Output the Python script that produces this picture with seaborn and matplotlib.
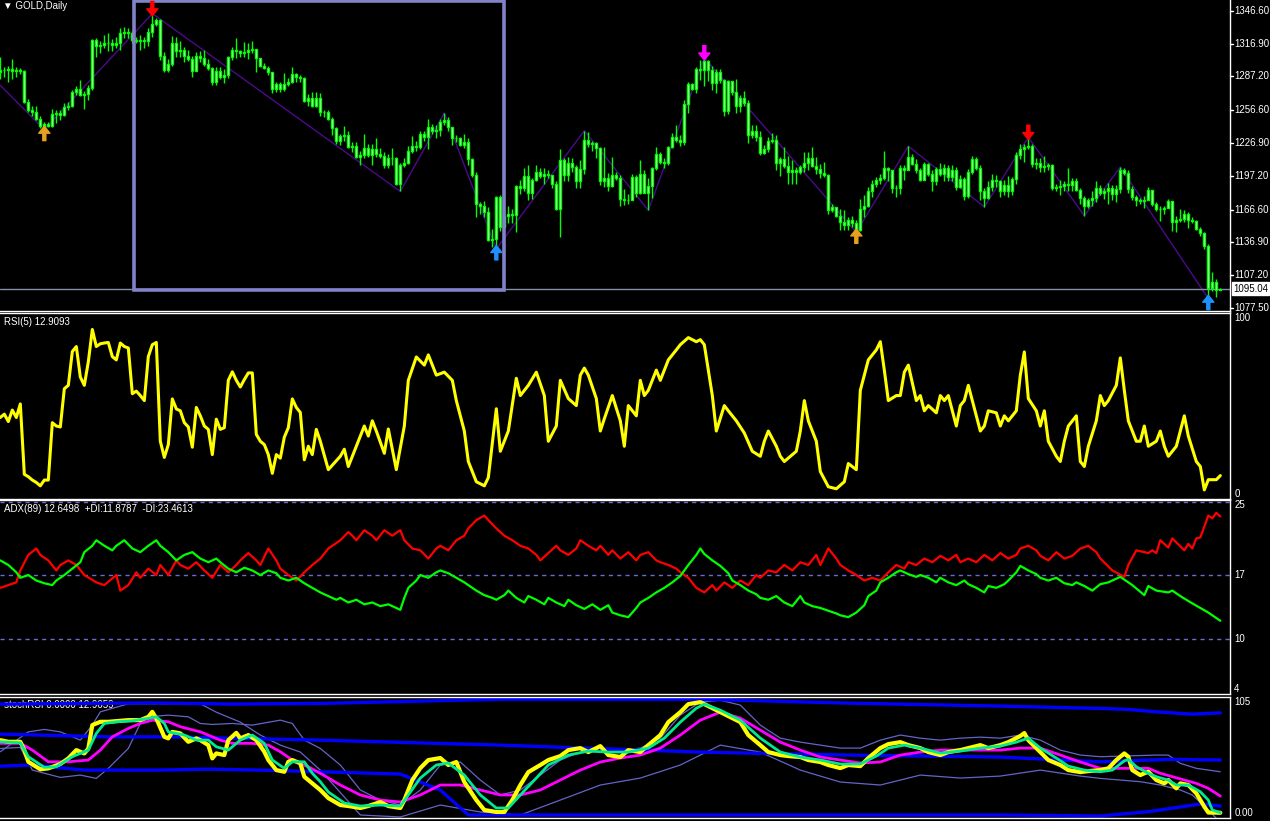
import matplotlib
matplotlib.use('Agg')
import matplotlib.pyplot as plt
from matplotlib.patches import Rectangle
import seaborn as sns

# GOLD daily bars, oldest first (306 bars)
closes = [1293, 1293, 1294, 1292, 1293, 1292, 1264, 1257, 1255, 1249, 1242, 1244, 1242, 1253, 1254, 1252, 1259, 1260, 1273, 1276,
          1270, 1271, 1277, 1320, 1315, 1316, 1317, 1317, 1316, 1317, 1326, 1327, 1326, 1320, 1319, 1320, 1319, 1327, 1335, 1338,
          1306, 1293, 1298, 1317, 1310, 1311, 1306, 1303, 1292, 1306, 1304, 1298, 1295, 1282, 1292, 1287, 1288, 1305, 1311, 1310,
          1308, 1309, 1311,
          1312, 1304, 1297, 1295, 1291, 1276, 1280, 1276, 1280, 1282, 1289, 1287, 1286, 1265, 1268, 1260, 1268, 1255, 1255, 1249,
          1240, 1229, 1233, 1234, 1223, 1224, 1214, 1216, 1222, 1216, 1221, 1217, 1215, 1207, 1213, 1213, 1190, 1207, 1209, 1220,
          1224, 1223, 1235, 1232, 1241, 1238, 1239, 1246, 1248, 1241, 1231, 1231, 1225, 1228, 1212, 1198, 1172, 1170, 1164, 1139,
          1140, 1178,
          1151, 1161, 1163, 1162, 1188, 1186, 1197, 1182, 1193, 1201, 1197, 1199, 1198, 1190, 1167, 1211, 1198, 1209, 1205, 1192,
          1203, 1230, 1226, 1227, 1222, 1192, 1195, 1188, 1198, 1195, 1176, 1175, 1175, 1196, 1182, 1199, 1182, 1188, 1204, 1217,
          1210, 1209, 1223, 1232, 1230, 1228, 1262, 1280, 1276, 1294, 1293, 1301, 1293, 1281, 1291, 1284, 1256, 1283, 1273, 1260,
          1268, 1263, 1234,
          1238, 1232, 1218, 1221, 1229, 1230, 1209, 1212, 1206, 1201, 1202, 1201, 1205, 1209, 1213, 1206, 1203, 1200, 1198, 1166,
          1169, 1161, 1155, 1153, 1157, 1154, 1148, 1167, 1170, 1183, 1190, 1193, 1195, 1204, 1202, 1186, 1186, 1204, 1202, 1214,
          1208, 1202, 1193, 1208, 1199, 1192, 1203, 1199, 1204, 1196, 1202, 1187, 1194, 1179, 1201, 1212, 1204, 1183, 1177, 1187,
          1193, 1192,
          1183, 1189, 1183, 1194, 1216, 1221, 1223, 1224, 1208, 1209, 1205, 1206, 1207, 1186, 1187, 1188, 1190, 1189, 1192, 1184,
          1177, 1170, 1175, 1177, 1186, 1182, 1183, 1186, 1181, 1185, 1202, 1200, 1185, 1178, 1175, 1174, 1175, 1184, 1172, 1167,
          1167, 1168, 1174, 1155, 1157, 1158, 1163, 1157, 1156, 1149, 1145, 1134, 1096, 1101, 1094, 1095.04]
highs = [1305, 1296, 1297, 1303, 1296, 1295, 1293, 1267, 1260, 1260, 1251, 1246, 1246, 1258, 1257, 1257, 1263, 1264, 1275, 1278,
         1284, 1274, 1279, 1321, 1322, 1319, 1325, 1326, 1321, 1323, 1331, 1332, 1331, 1328, 1323, 1325, 1323, 1331, 1344, 1340,
         1339, 1309, 1303, 1324, 1323, 1319, 1314, 1311, 1306, 1309, 1310, 1311, 1303, 1296, 1296, 1296, 1294, 1306, 1314, 1322,
         1311, 1318, 1317,
         1319, 1312, 1303, 1299, 1297, 1291, 1282, 1282, 1290, 1286, 1296, 1290, 1288, 1287, 1271, 1273, 1273, 1272, 1257, 1257,
         1250, 1241, 1235, 1242, 1238, 1228, 1228, 1220, 1235, 1226, 1226, 1231, 1222, 1219, 1217, 1222, 1214, 1209, 1213, 1224,
         1233, 1229, 1238, 1238, 1249, 1244, 1243, 1249, 1254, 1250, 1241, 1234, 1232, 1235, 1231, 1213, 1201, 1173, 1174, 1169,
         1149, 1179,
         1180, 1166, 1170, 1167, 1189, 1193, 1204, 1207, 1195, 1207, 1204, 1204, 1202, 1198, 1192, 1221, 1213, 1214, 1213, 1207,
         1211, 1238, 1237, 1229, 1228, 1223, 1223, 1200, 1214, 1201, 1198, 1185, 1181, 1199, 1198, 1211, 1202, 1195, 1205, 1223,
         1219, 1213, 1224, 1236, 1243, 1234, 1266, 1282, 1281, 1296, 1302, 1304, 1302, 1297, 1294, 1294, 1285, 1284, 1283, 1285,
         1270, 1274, 1266,
         1243, 1243, 1238, 1225, 1232, 1236, 1234, 1214, 1223, 1215, 1211, 1205, 1207, 1219, 1219, 1223, 1214, 1208, 1210, 1199,
         1172, 1167, 1167, 1166, 1160, 1161, 1157, 1176, 1180, 1187, 1193, 1196, 1199, 1220, 1205, 1200, 1189, 1207, 1207, 1224,
         1217, 1212, 1204, 1210, 1209, 1202, 1205, 1209, 1208, 1207, 1207, 1205, 1198, 1196, 1203, 1215, 1214, 1207, 1186, 1192,
         1199, 1198,
         1193, 1193, 1197, 1196, 1219, 1226, 1226, 1232, 1226, 1213, 1213, 1215, 1209, 1208, 1190, 1193, 1192, 1204, 1195, 1195,
         1186, 1179, 1177, 1183, 1192, 1189, 1186, 1191, 1189, 1189, 1205, 1204, 1202, 1188, 1180, 1177, 1179, 1187, 1181, 1173,
         1170, 1170, 1176, 1170, 1161, 1167, 1166, 1164, 1160, 1157, 1151, 1146, 1135, 1110, 1104, 1096]
lows = [1285, 1287, 1282, 1285, 1287, 1289, 1263, 1255, 1251, 1248, 1240, 1239, 1241, 1241, 1245, 1248, 1251, 1257, 1259, 1270,
        1269, 1258, 1266, 1275, 1305, 1308, 1313, 1310, 1310, 1313, 1311, 1322, 1322, 1317, 1317, 1311, 1313, 1315, 1323, 1333,
        1302, 1291, 1291, 1297, 1305, 1305, 1300, 1301, 1287, 1296, 1300, 1297, 1293, 1279, 1279, 1285, 1281, 1286, 1302, 1304,
        1305, 1305, 1303,
        1308, 1291, 1296, 1294, 1288, 1272, 1273, 1273, 1274, 1278, 1281, 1282, 1282, 1264, 1260, 1259, 1259, 1251, 1250, 1248,
        1234, 1226, 1225, 1229, 1222, 1219, 1213, 1207, 1213, 1214, 1207, 1214, 1213, 1204, 1204, 1207, 1189, 1183, 1205, 1208,
        1218, 1220, 1221, 1229, 1221, 1235, 1231, 1233, 1243, 1238, 1225, 1228, 1224, 1222, 1207, 1196, 1160, 1163, 1160, 1138,
        1133, 1131,
        1147, 1155, 1154, 1154, 1146, 1181, 1183, 1175, 1176, 1192, 1195, 1190, 1195, 1186, 1166, 1142, 1192, 1192, 1201, 1186,
        1186, 1199, 1223, 1220, 1213, 1189, 1187, 1183, 1187, 1193, 1170, 1171, 1172, 1182, 1178, 1181, 1183, 1166, 1177, 1202,
        1208, 1204, 1207, 1222, 1228, 1224, 1225, 1254, 1275, 1272, 1284, 1278, 1283, 1275, 1272, 1281, 1251, 1253, 1270, 1254,
        1255, 1260, 1227,
        1231, 1229, 1216, 1217, 1219, 1227, 1202, 1197, 1204, 1190, 1190, 1190, 1199, 1201, 1202, 1205, 1199, 1195, 1196, 1163,
        1164, 1160, 1148, 1148, 1148, 1151, 1146, 1147, 1160, 1169, 1178, 1187, 1190, 1193, 1192, 1182, 1178, 1181, 1193, 1212,
        1207, 1200, 1192, 1193, 1197, 1183, 1189, 1197, 1192, 1192, 1192, 1184, 1186, 1175, 1177, 1199, 1202, 1175, 1169, 1176,
        1183, 1187,
        1178, 1180, 1178, 1180, 1190, 1212, 1210, 1221, 1205, 1203, 1201, 1201, 1202, 1184, 1183, 1180, 1183, 1183, 1183, 1183,
        1172, 1161, 1168, 1170, 1173, 1180, 1176, 1172, 1175, 1173, 1182, 1198, 1182, 1175, 1170, 1172, 1168, 1176, 1170, 1165,
        1156, 1163, 1168, 1147, 1146, 1155, 1155, 1150, 1154, 1148, 1143, 1131, 1086, 1093, 1087, 1094]
first_open = 1291
last_price = 1095.04
price_ticks = [1346.60, 1316.90, 1287.20, 1256.60, 1226.90, 1197.20, 1166.60, 1136.90, 1107.20, 1077.50]

# zigzag swing points: bar index and 'H' (high) / 'L' (low); line enters from the left at zz_entry
zz_entry = 1279
zz_bars = [11, 38, 100, 111, 124, 146, 162, 176, 214, 227, 246, 257, 271, 280, 302]
zz_kinds = ['L', 'H', 'L', 'H', 'L', 'H', 'L', 'H', 'L', 'H', 'L', 'H', 'L', 'H', 'L']

# signal arrows
arrow_bars = [11, 38, 124, 176, 214, 257, 302]
arrow_kinds = ['up', 'down', 'up', 'down', 'up', 'down', 'up']
arrow_colors = ['#e8a020', '#ff0000', '#1e90ff', '#ff00ff', '#e8a020', '#ff0000', '#1e90ff']

# RSI(5)
rsi_bars = list(range(80)) + [
    80, 82, 85, 86, 87, 89, 91, 92, 93, 94, 96, 97, 99, 101, 102, 104, 106, 107, 109, 111, 113, 114, 116, 117, 119, 121, 122,
    124, 125, 127, 129, 130, 132, 134, 136, 137, 139, 140, 142, 144, 145, 146, 147, 149, 150, 151, 153, 155, 156, 157, 159,
    160, 161, 162, 164, 165, 167, 169, 170, 172, 174, 175, 176, 178, 179, 181, 182, 184, 186, 188, 190, 191, 192, 194, 195,
    196, 199, 200, 201, 202, 204, 205, 207, 209, 211, 212, 214, 215, 217, 219, 220, 221, 222, 224, 225, 226, 227, 229, 230,
    231, 232, 234, 235, 236, 237, 239, 240, 241, 242, 244, 245, 246, 247, 249, 250, 251, 252, 254, 255, 256, 257, 259, 260,
    261, 262, 264, 265, 266, 267, 269, 270, 271, 272, 274, 275, 276, 277, 279, 280, 281, 282, 284, 285, 286, 287, 289, 290,
    291, 292, 294, 295, 296, 297, 299, 300, 301, 302, 304, 305]
rsi_values = [
    43.9, 45.7, 41.7, 47.9, 43.9, 51.2, 13.3, 12.0, 10.2, 8.9, 7.1, 10.2, 10.2, 41.1, 39.3, 38.8, 59.4, 61.2, 79.4, 82.1,
    65.7, 61.2, 73.9, 91.3, 82.1, 83.6, 84.0, 84.3, 76.7, 74.9, 84.0, 82.1, 81.3, 56.7, 58.1, 55.7, 53.0, 76.7, 83.1, 84.3,
    31.1, 22.4, 29.3, 53.9, 48.5, 47.5, 41.1, 38.8, 27.9, 49.3, 44.8, 39.3, 37.5, 23.9, 43.0, 37.5, 38.4, 63.9, 68.5, 63.9,
    60.3, 64.3, 67.9, 67.9, 34.8, 31.1, 29.3, 23.9, 13.8, 23.9, 22.0, 33.3, 38.4, 53.9, 49.3, 46.6, 21.1, 28.4, 23.9, 37.5,
    31.1, 15.8, 23.0, 26.8, 17.5, 28.4, 39.3, 33.9, 42.1, 36.6, 24.6, 37.7, 15.8, 39.3, 63.9, 76.5, 72.1, 77.6, 66.7, 68.3,
    63.9, 53.0, 36.6, 20.2, 9.3, 7.1, 11.5, 48.6, 25.7, 36.6, 65.0, 55.7, 61.2, 68.3, 55.7, 31.1, 39.3, 63.9, 54.1, 50.3,
    66.7, 70.5, 66.7, 54.1, 36.6, 43.2, 55.7, 42.1, 28.4, 50.3, 44.8, 63.9, 55.7, 58.5, 69.4, 63.9, 74.9, 80.3, 83.1, 86.9,
    84.7, 85.8, 83.1, 55.7, 36.6, 50.3, 47.5, 42.1, 35.5, 25.7, 23.0, 31.1, 36.6, 28.4, 23.0, 20.2, 25.7, 36.6, 53.0, 42.1,
    31.1, 14.8, 6.6, 5.5, 9.3, 19.1, 15.8, 58.5, 74.9, 80.3, 84.7, 69.4, 53.0, 55.7, 55.7, 68.3, 72.1, 53.0, 55.7, 47.5,
    50.3, 46.4, 55.7, 53.0, 55.7, 39.3, 50.3, 53.0, 61.2, 44.8, 36.6, 39.3, 47.5, 46.4, 39.3, 44.8, 42.1, 47.5, 66.7, 79.2,
    54.1, 47.5, 39.3, 47.5, 31.1, 23.0, 20.2, 31.1, 39.3, 44.8, 20.2, 17.5, 28.4, 42.1, 55.7, 50.3, 53.0, 61.2, 76.0, 58.5,
    42.1, 31.1, 31.1, 39.3, 28.4, 31.1, 36.6, 28.4, 23.0, 28.4, 36.6, 44.8, 33.9, 20.2, 17.5, 4.9, 10.4, 10.4, 12.6]

# ADX(89): -DI (red) and +DI (green)
mdi_bars = [0, 2, 4, 5, 7, 9, 10, 12, 14, 15, 17, 19, 21, 24, 26, 29, 30, 32, 34, 35, 37, 39, 40, 42, 44, 45, 47, 49,
            51, 53, 55, 57, 59, 60, 62, 64, 65, 67, 69, 70, 72, 74, 76, 78, 80, 82, 85, 87, 88, 89, 91, 93, 94, 96, 98,
            100, 101, 103, 105, 107, 109, 110, 112, 114, 116, 117, 119, 121, 122, 124, 126, 128, 130, 132, 134, 135,
            137, 139, 140, 142, 144, 145, 147, 149, 150, 152, 153, 155, 157, 159, 160, 162, 164, 165, 167, 169, 170,
            172, 174, 176, 178, 179, 181, 183, 185, 187, 189, 190, 192, 194, 196, 198, 200, 202, 204, 205, 207, 209,
            210, 212, 214, 216, 218, 220, 222, 224, 226, 227, 229, 231, 233, 235, 237, 239, 240, 242, 244, 246, 248,
            250, 252, 254, 255, 257, 259, 260, 262, 264, 266, 268, 270, 272, 274, 275, 278, 281, 282, 284, 287, 288,
            289, 290, 292, 293, 296, 297, 298, 299, 300, 302, 303, 304, 305]
minus_di = [15.6, 15.9, 16.2, 17.5, 19.2, 19.9, 19.2, 18.6, 17.5, 18.1, 18.6, 18.1, 17.0, 16.2, 15.9, 17.0, 15.3, 15.9,
            17.3, 16.7, 17.7, 17.0, 18.1, 17.0, 18.6, 18.1, 17.7, 18.4, 17.5, 16.7, 18.1, 17.3, 18.1, 18.6, 19.4, 18.6,
            18.1, 19.9, 18.6, 17.7, 17.0, 16.4, 17.3, 18.1, 18.8, 19.9, 20.8, 21.7, 21.3, 20.8, 21.9, 21.3, 20.8, 21.9,
            21.3, 21.9, 20.8, 19.9, 19.7, 18.8, 19.9, 20.2, 19.7, 20.8, 21.3, 22.1, 23.0, 23.5, 23.0, 22.1, 21.3, 20.8,
            20.2, 19.9, 19.2, 18.6, 19.4, 20.2, 19.7, 19.2, 19.9, 20.8, 20.2, 19.7, 20.2, 19.2, 19.7, 18.8, 19.5, 18.6,
            19.2, 19.5, 18.6, 18.4, 18.1, 17.7, 17.3, 16.7, 15.6, 15.1, 15.9, 15.3, 16.2, 15.6, 16.4, 15.9, 17.0, 16.7,
            17.5, 17.3, 18.1, 17.5, 18.4, 18.1, 19.2, 18.1, 19.9, 18.8, 18.1, 17.5, 17.0, 16.4, 16.7, 16.4, 17.3, 18.1,
            17.7, 18.4, 18.1, 18.8, 18.4, 19.1, 18.6, 19.2, 18.4, 18.8, 18.4, 19.2, 18.6, 19.4, 18.8, 19.2, 19.9, 20.2,
            19.7, 19.1, 18.6, 19.5, 18.8, 19.1, 19.9, 20.2, 19.5, 18.8, 17.5, 16.8, 18.1, 19.7, 19.4, 19.7, 19.4, 20.8,
            20.0, 21.0, 19.7, 20.4, 19.9, 21.0, 21.1, 23.5, 23.2, 23.8, 23.4]
pdi_bars = [0, 2, 4, 5, 7, 9, 11, 13, 14, 16, 18, 20, 21, 23, 24, 26, 28, 29, 31, 33, 35, 37, 39, 40, 42, 44, 46, 48,
            50, 52, 54, 55, 57, 59, 61, 63, 65, 67, 69, 70, 72, 74, 76, 78, 80, 82, 84, 85, 87, 89, 91, 93, 95, 97, 99,
            100, 101, 102, 104, 105, 107, 109, 110, 112, 114, 116, 117, 119, 121, 123, 124, 126, 127, 129, 131, 132,
            134, 136, 137, 139, 141, 142, 144, 146, 148, 150, 152, 153, 155, 157, 159, 160, 162, 164, 166, 168, 170,
            172, 174, 175, 176, 178, 180, 182, 183, 185, 187, 189, 190, 192, 194, 196, 198, 200, 201, 203, 205, 207,
            209, 210, 212, 214, 216, 217, 219, 220, 222, 224, 225, 227, 229, 230, 232, 234, 235, 237, 239, 241, 242,
            244, 246, 247, 249, 251, 252, 254, 255, 257, 259, 260, 262, 264, 266, 268, 269, 271, 273, 275, 277, 280,
            283, 286, 287, 289, 292, 293, 295, 298, 302, 305]
plus_di = [18.6, 18.1, 17.3, 16.7, 17.0, 16.4, 16.1, 15.9, 16.4, 17.0, 17.7, 18.4, 19.5, 20.2, 20.8, 20.2, 19.7, 20.2,
           20.8, 19.9, 19.5, 20.2, 20.8, 20.2, 19.5, 18.6, 19.2, 19.5, 18.8, 18.4, 18.8, 18.4, 17.7, 17.3, 17.8, 17.5,
           17.0, 17.5, 17.2, 16.7, 16.4, 16.7, 16.1, 15.6, 15.1, 14.7, 14.3, 14.5, 14.0, 14.3, 13.8, 14.0, 13.6, 13.8,
           13.4, 13.2, 14.5, 15.6, 16.4, 17.0, 16.7, 17.3, 17.5, 17.2, 16.7, 16.2, 15.9, 15.3, 14.8, 14.5, 14.3, 14.8,
           15.3, 14.5, 14.0, 14.7, 14.3, 13.8, 14.5, 14.0, 13.6, 14.3, 13.7, 13.3, 13.8, 13.2, 13.7, 12.9, 12.6, 12.4,
           13.4, 14.0, 14.5, 15.1, 15.6, 16.2, 16.9, 18.1, 19.2, 19.9, 19.3, 18.6, 18.0, 17.2, 16.4, 15.9, 15.3, 14.9,
           14.5, 14.3, 14.7, 14.0, 13.6, 14.7, 14.0, 13.6, 13.4, 13.1, 12.8, 12.6, 12.4, 12.9, 13.7, 14.7, 15.3, 16.2,
           16.7, 17.3, 17.5, 17.1, 16.8, 17.0, 16.7, 16.2, 16.7, 16.2, 15.9, 16.4, 16.0, 15.6, 15.1, 15.8, 15.6, 16.0,
           16.4, 17.3, 18.0, 17.5, 17.1, 16.7, 16.4, 16.7, 16.1, 15.9, 16.2, 15.8, 15.3, 16.0, 16.2, 16.8, 15.9, 14.8,
           15.8, 15.3, 15.1, 15.3, 14.7, 13.9, 12.9, 12.0]
adx_levels = [25, 17, 10]

# stochRSI lines
k_bars = [0, 2, 5, 6, 7, 10, 12, 15, 17, 19, 21, 22, 23, 25, 27, 30, 32, 35, 37, 38, 39, 41, 42, 43, 45, 47, 49, 50,
          52, 53, 54, 56, 57, 59, 60, 62, 64, 66, 67, 69, 71, 72, 73, 75, 76, 78, 80, 82, 85, 87, 90, 92, 95, 97, 100,
          101, 103, 105, 107, 110, 112, 114, 116, 119, 121, 124, 126, 128, 130, 132, 135, 137, 140, 142, 145, 147,
          150, 152, 155, 157, 160, 162, 165, 167, 170, 172, 175, 177, 180, 182, 185, 187, 190, 192, 195, 197, 200,
          202, 205, 207, 210, 212, 215, 217, 220, 222, 225, 227, 230, 232, 235, 237, 240, 242, 245, 247, 250, 252,
          255, 256, 257, 260, 262, 265, 267, 270, 272, 275, 277, 279, 281, 282, 283, 285, 286, 287, 289, 291, 292,
          294, 295, 297, 299, 301, 302, 303, 305]
stoch_k = [65.7, 64.2, 64.2, 56.7, 46.1, 39.3, 40.2, 44.1, 49.2, 56.7, 53.7, 58.2, 79.3, 82.3, 82.3, 83.2, 83.8, 83.8,
           86.8, 91.3, 85.3, 68.7, 67.3, 73.2, 71.8, 64.2, 67.3, 65.7, 61.2, 49.2, 53.7, 52.2, 65.7, 72.3, 67.3, 70.3,
           65.7, 55.2, 47.7, 38.6, 37.1, 46.1, 47.7, 44.7, 32.6, 26.6, 20.6, 13.3, 7.0, 6.1, 4.3, 6.1, 9.7, 6.1, 4.3,
           11.5, 29.6, 40.4, 47.7, 49.5, 43.2, 45.9, 27.8, 11.5, 2.5, 0.7, 0.7, 11.5, 25.1, 36.8, 43.2, 47.7, 51.3,
           56.7, 58.5, 54.9, 60.3, 52.2, 50.4, 56.7, 54.9, 61.2, 70.3, 82.0, 91.0, 98.3, 100.1, 96.5, 91.0, 87.4, 82.0,
           70.3, 61.2, 54.9, 52.2, 51.3, 50.4, 47.7, 45.9, 43.2, 40.4, 43.2, 42.2, 49.5, 58.5, 62.1, 63.9, 61.2, 58.5,
           54.9, 52.2, 54.9, 56.7, 58.5, 61.2, 58.5, 61.2, 63.9, 69.4, 72.1, 65.7, 54.9, 47.7, 43.2, 38.6, 36.8, 37.7,
           38.6, 40.2, 47.7, 53.7, 50.7, 38.6, 34.1, 35.7, 37.1, 29.6, 26.6, 29.6, 22.1, 26.6, 25.1, 17.6, 5.5, 0.2,
           0.1, 0.0]
d_bars = [0, 5, 7, 11, 14, 18, 22, 24, 26, 29, 33, 37, 39, 41, 42, 46, 49, 52, 54, 57, 60, 63, 66, 68, 71, 73, 76, 78,
          80, 82, 86, 90, 95, 100, 102, 105, 109, 112, 116, 120, 124, 127, 130, 134, 137, 142, 147, 152, 157, 162, 166,
          170, 174, 176, 180, 185, 190, 195, 200, 205, 210, 215, 219, 222, 226, 230, 235, 240, 245, 250, 254, 257, 260,
          264, 267, 271, 275, 278, 281, 282, 284, 287, 289, 292, 294, 297, 300, 302, 303, 305]
stoch_d = [64.2, 63.3, 50.7, 41.1, 41.6, 50.7, 56.7, 71.8, 80.8, 82.3, 83.2, 85.3, 86.8, 80.8, 73.2, 70.3, 65.7, 65.7,
           59.7, 56.7, 65.7, 70.3, 62.8, 47.7, 40.2, 46.1, 46.1, 35.7, 28.1, 18.8, 8.8, 6.1, 7.0, 6.1, 16.1, 31.4, 43.2,
           45.0, 34.1, 16.1, 4.3, 4.3, 16.1, 31.4, 43.2, 52.2, 55.8, 54.9, 54.9, 58.5, 67.5, 82.0, 94.6, 98.3, 92.8,
           83.8, 67.5, 54.9, 50.4, 47.7, 44.1, 44.1, 51.3, 58.5, 61.2, 58.5, 54.0, 55.8, 58.5, 60.3, 63.9, 67.5, 58.5,
           49.5, 42.2, 38.6, 37.1, 38.6, 47.0, 48.3, 41.6, 35.7, 32.6, 29.6, 25.1, 25.1, 19.0, 11.5, 2.5, 0.1]
slow_bars = [0, 5, 8, 12, 17, 22, 25, 28, 32, 35, 38, 42, 45, 50, 55, 58, 63, 67, 70, 73, 77, 80, 85, 90, 95, 100, 105,
             110, 115, 120, 125, 130, 135, 140, 145, 150, 155, 160, 165, 170, 175, 180, 185, 190, 195, 200, 205, 210,
             215, 220, 225, 230, 235, 240, 245, 250, 255, 260, 265, 270, 275, 287, 290, 296, 299, 302, 305]
stoch_slow = [62.8, 62.8, 56.7, 46.1, 46.1, 47.7, 56.7, 68.7, 76.3, 80.8, 83.8, 82.3, 77.8, 73.2, 65.7, 62.8, 62.8, 61.2,
              55.2, 47.7, 41.6, 35.7, 25.1, 16.1, 11.5, 9.7, 16.1, 25.1, 25.1, 20.6, 16.1, 16.1, 20.6, 29.6, 38.6, 45.9,
              49.5, 52.2, 58.5, 70.3, 83.8, 91.0, 85.6, 74.7, 63.9, 56.7, 50.4, 47.7, 45.0, 45.9, 52.2, 54.9, 56.7, 56.7,
              56.7, 56.7, 58.5, 58.5, 52.2, 45.9, 40.2, 40.2, 35.7, 29.6, 26.6, 22.1, 15.1]
band_up_bars = [0, 38, 58, 80, 125, 175, 212, 250, 275, 282, 289, 298, 305]
band_up = [98.3, 99.4, 98.3, 98.9, 102.7, 102.7, 99.2, 96.5, 94.4, 93.5, 91.3, 89.2, 90.4]
band_mid_bars = [0, 27, 42, 80, 125, 175, 212, 250, 275, 292, 305]
band_mid = [71.2, 68.7, 68.7, 65.7, 61.2, 54.9, 52.2, 50.4, 46.1, 48.3, 47.7]
band_lo_bars = [0, 8, 21, 40, 52, 65, 80, 100, 110, 117, 175, 250, 275, 287, 300, 305]
band_lo = [42.2, 43.2, 38.6, 38.6, 39.5, 38.6, 37.1, 35.0, 20.6, -2.0, -2.0, -2.0, -2.9, 1.0, 7.9, 6.1]
thin_a_bars = [0, 5, 8, 15, 20, 24, 27, 32, 35, 37, 42, 47, 50, 53, 58, 63, 70, 73, 76, 80, 85, 90, 95, 100, 105, 110,
               115, 120, 125, 130, 135, 140, 145, 150, 155, 160, 165, 170, 175, 180, 185, 190, 195, 200, 205, 210, 215,
               220, 225, 230, 235, 240, 245, 250, 255, 260, 265, 270, 275, 289, 292, 295, 299, 305]
thin_a = [58.2, 59.1, 38.6, 32.0, 34.1, 31.1, 40.2, 58.2, 80.8, 86.8, 88.3, 86.8, 80.8, 79.9, 80.8, 79.3, 83.8, 80.8,
          65.7, 58.2, 43.2, 20.6, 11.5, 7.0, 20.6, 43.2, 45.9, 29.6, 16.1, 20.6, 34.1, 47.7, 54.9, 58.5, 56.7, 58.5,
          67.5, 88.3, 100.1, 101.8, 97.4, 79.3, 67.5, 63.9, 61.2, 58.5, 58.5, 65.7, 70.3, 67.5, 65.7, 67.5, 68.4, 67.5,
          70.3, 65.7, 56.7, 52.2, 50.7, 52.2, 52.2, 44.7, 40.2, 37.1]
thin_b_bars = [0, 7, 11, 15, 20, 23, 25, 32, 50, 54, 60, 65, 70, 75, 80, 90, 100, 110, 120, 130, 140, 150, 160, 170,
               180, 190, 200, 210, 220, 230, 240, 250, 260, 270, 275, 285, 290, 295, 298, 302, 304]
thin_b = [55.2, 73.2, 75.4, 73.2, 65.7, 79.3, 91.3, 98.6, 98.6, 91.0, 82.0, 70.3, 61.2, 54.9, 38.6, -2.0, -3.8, 7.0,
          0.7, -2.0, 11.5, 25.1, 31.4, 43.2, 61.2, 54.9, 38.6, 27.8, 25.1, 34.1, 31.4, 33.2, 38.6, 33.2, 31.1, 28.1,
          25.1, 20.6, 16.1, 2.5, -5.0]

# ---------------------------------------------------------------
sns.set_style('dark', {'axes.facecolor': 'black', 'figure.facecolor': 'black'})
plt.rcParams['font.family'] = ['Liberation Sans', 'DejaVu Sans']

W, H = 1270, 821
PLOT_W = 1230
XMIN, XMAX = -0.08, 307.42
FS = 7

fig = plt.figure(figsize=(W / 100, H / 100), dpi=100)
fig.patch.set_facecolor('black')


def panel(top, bottom):
    ax = fig.add_axes([0, 1 - bottom / H, PLOT_W / W, (bottom - top) / H])
    ax.set_facecolor('black')
    for s in ('top', 'bottom', 'right'):
        ax.spines[s].set_color('white')
        ax.spines[s].set_linewidth(1)
    ax.spines['left'].set_visible(False)
    ax.set_xlim(XMIN, XMAX)
    ax.grid(False)
    ax.set_xticks([])
    ax.set_yticks([])
    return ax


def right_label(ax, value, text, va='center', tick=True):
    ax.text(1.0035, value, text, transform=ax.get_yaxis_transform(), color='white',
            fontsize=FS, va=va, ha='left', clip_on=False)
    if tick:
        ax.plot([1.0, 1.0025], [value, value], transform=ax.get_yaxis_transform(),
                color='white', lw=1, clip_on=False)


def corner_label(ax, top, bottom, y_px, text):
    ax.text(4 / PLOT_W, (bottom - y_px) / (bottom - top), text, transform=ax.transAxes,
            color='white', fontsize=7, va='center', ha='left', zorder=1)


def line(ax, x, y, color, lw, z):
    sns.lineplot(x=x, y=y, ax=ax, color=color, linewidth=lw, estimator=None, sort=False, zorder=z)
    ax.set_xlabel('')
    ax.set_ylabel('')


# ---- main price panel ----
M_TOP, M_BOT = 0, 311.5
ax1 = panel(M_TOP, M_BOT)
ax1.spines['top'].set_visible(False)
ax1.set_ylim(1074.3, 1356.3)

bars = list(range(len(closes)))
opens = [first_open] + closes[:-1]
body_lo = [min(o, c) for o, c in zip(opens, closes)]
body_h = [max(abs(c - o), 0.35) for o, c in zip(opens, closes)]
hi = [max(h, o, c) for h, o, c in zip(highs, opens, closes)]
lo = [min(l, o, c) for l, o, c in zip(lows, opens, closes)]

zz_x = [0] + zz_bars
zz_y = [zz_entry] + [highs[b] if k == 'H' else lows[b] for b, k in zip(zz_bars, zz_kinds)]
ax1.plot(zz_x, zz_y, color='#4b0a8c', lw=1, zorder=1)

ax1.vlines(bars, lo, hi, color='#00ff00', lw=1, zorder=2)
ax1.bar(bars, body_h, bottom=body_lo, width=0.5, color='white', edgecolor='#00ff00',
        linewidth=1, zorder=3)

ax1.axhline(last_price, color='#8090a8', lw=1, zorder=1)
ax1.add_patch(Rectangle((33.3, 1094.1), 125.9 - 33.3, 1355.6 - 1094.1, fill=False,
                        edgecolor='#8282c8', lw=2.6, zorder=4))

for b, k, c in zip(arrow_bars, arrow_kinds, arrow_colors):
    if k == 'down':
        tip, tail = highs[b] - 2, highs[b] + 11
    else:
        tip, tail = lows[b] + 3, lows[b] - 10
    ax1.annotate('', xy=(b, tip), xytext=(b, tail),
                 arrowprops=dict(facecolor=c, edgecolor=c, width=2.2, headwidth=8,
                                 headlength=5, shrink=0), zorder=5)

for v in price_ticks:
    right_label(ax1, v, f'{v:.2f}')
ax1.text(1.0025, last_price, f'{last_price:.2f}', transform=ax1.get_yaxis_transform(),
         color='black', fontsize=FS, va='center', ha='left', clip_on=False,
         bbox=dict(boxstyle='square,pad=0.12', fc='white', ec='white'))
fig.text(3 / W, 1 - 6 / H, '\u25bc GOLD,Daily', color='white', fontsize=7, va='center', ha='left')

# ---- RSI panel ----
R_TOP, R_BOT = 313.3, 499
ax2 = panel(R_TOP, R_BOT)
ax2.set_ylim(0, 100)
line(ax2, rsi_bars, rsi_values, '#ffff00', 2.2, 3)
corner_label(ax2, R_TOP, R_BOT, 322, 'RSI(5) 12.9093')
right_label(ax2, 100, '100', va='top', tick=False)
right_label(ax2, 0, '0', va='bottom', tick=False)

# ---- ADX panel ----
A_TOP, A_BOT = 500, 694
ax3 = panel(A_TOP, A_BOT)
ax3.set_ylim(4.0, 25.2)
for lv in adx_levels:
    ax3.axhline(lv, color='#6a6ad0', lw=1, ls=(0, (3, 3)), zorder=1)
line(ax3, mdi_bars, minus_di, '#ff0000', 1.6, 3)
line(ax3, pdi_bars, plus_di, '#00ff00', 1.6, 3)
corner_label(ax3, A_TOP, A_BOT, 509, 'ADX(89) 12.6498  +DI:11.8787  -DI:23.4613')
right_label(ax3, 25.2, '25', va='top', tick=False)
right_label(ax3, 17, '17', tick=False)
right_label(ax3, 10, '10', tick=False)
right_label(ax3, 4.0, '4', va='bottom', tick=False)

# ---- stochRSI panel ----
S_TOP, S_BOT = 696.7, 818.3
ax4 = panel(S_TOP, S_BOT)
ax4.set_ylim(-5, 105)
corner_label(ax4, S_TOP, S_BOT, 705, 'stochRSI 0.0000 12.9059')
line(ax4, thin_a_bars, thin_a, '#6464c8', 0.9, 2)
line(ax4, thin_b_bars, thin_b, '#6464c8', 0.9, 2)
for bx, by in ((band_up_bars, band_up), (band_mid_bars, band_mid), (band_lo_bars, band_lo)):
    line(ax4, bx, by, '#0000ff', 2.4, 2)
line(ax4, slow_bars, stoch_slow, '#ff00ff', 2, 3)
line(ax4, k_bars, stoch_k, '#ffff00', 3, 4)
line(ax4, d_bars, stoch_d, '#00e890', 2, 5)
right_label(ax4, 105, '105', va='top', tick=False)
right_label(ax4, -5, '0.00', va='bottom', tick=False)
ax4.set_xticks(range(16, len(closes), 16))
ax4.tick_params(axis='x', length=4, color='white', width=1, direction='out', labelbottom=False)

fig.savefig('out.png', dpi=100, facecolor='black')
